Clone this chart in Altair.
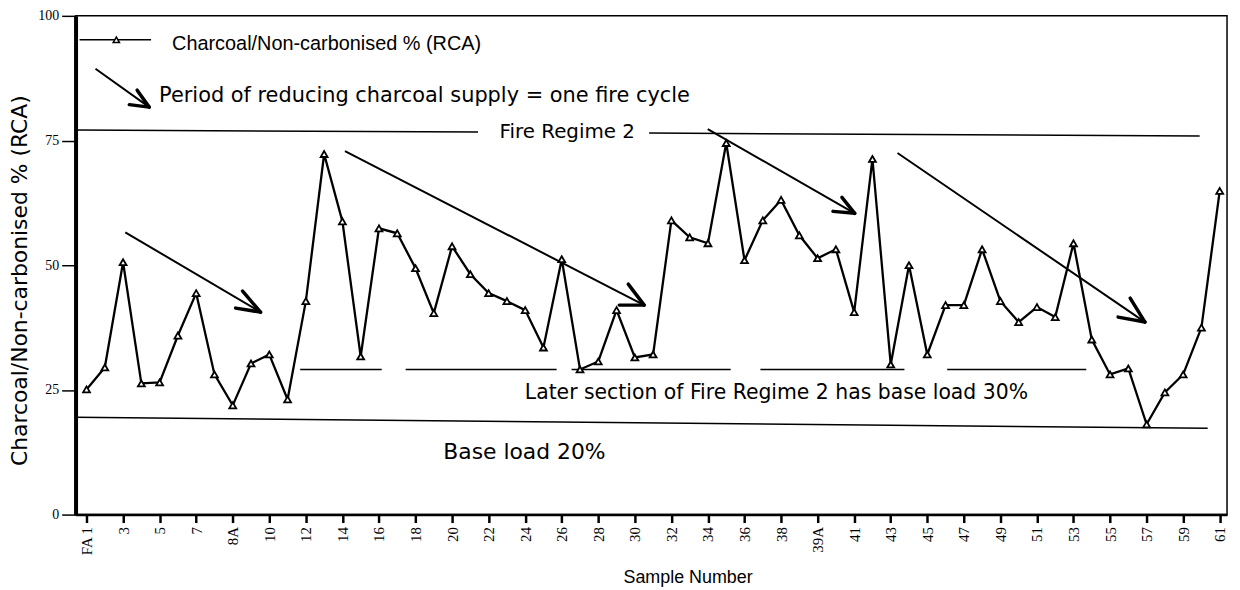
import altair as alt
import pandas as pd

# ---- data ----
samples = ["FA 1", "2", "3", "4", "5", "6", "7", "8", "8A", "9", "10", "11", "12", "13", "14",
           "15", "16", "17", "18", "19", "20", "21", "22", "23", "24", "25", "26", "27", "28",
           "29", "30", "31", "32", "33", "34", "35", "36", "37", "38", "39", "39A", "40", "41",
           "42", "43", "44", "45", "46", "47", "48", "49", "50", "51", "52", "53", "54", "55",
           "56", "57", "58", "59", "60", "61"]
rca = [25.1, 29.5, 50.6, 26.3, 26.5, 35.9, 44.4, 28.1, 21.9, 30.3, 32.1, 23.1, 42.8, 72.3, 58.8,
       31.7, 57.4, 56.4, 49.4, 40.4, 53.8, 48.2, 44.4, 42.8, 41.0, 33.5, 51.2, 29.1, 30.7,
       41.0, 31.5, 32.1, 59.0, 55.6, 54.4, 74.5, 51.0, 59.0, 63.1, 56.0, 51.4, 53.2, 40.6,
       71.3, 30.1, 50.0, 32.1, 42.0, 42.0, 53.2, 42.8, 38.6, 41.6, 39.6, 54.4, 35.1, 28.1,
       29.3, 18.1, 24.5, 28.1, 37.5, 64.9]
tick_positions = list(range(0, len(samples), 2))
y_ticks = [0, 25, 50, 75, 100]

# annotation lines (x in sample-index units, y in %)
regime_lines = [(-0.49, 77.1, 21.42, 76.7), (30.78, 76.5, 60.90, 75.9)]
base20_line = [(-0.6, 19.5, 61.34, 17.3)]
base30_segments = [(11.69, 16.15), (17.46, 25.72), (26.54, 35.24), (36.87, 44.75), (47.09, 54.70)]
base30_level = 29.1
arrow_shafts = [(0.49, 89.4, 3.43, 81.7), (2.12, 56.6, 9.52, 40.6), (14.14, 72.9, 30.51, 42.0),
                (33.99, 77.3, 42.03, 60.4), (44.37, 72.5, 57.91, 38.6)]
arrow_barbs = [(2.34, 82.2, 3.43, 81.7), (2.77, 85.1, 3.43, 81.7),
               (8.16, 41.4, 9.52, 40.6), (8.54, 44.8, 9.52, 40.6),
               (29.15, 42.0, 30.51, 42.0), (29.64, 46.2, 30.51, 42.0),
               (40.84, 60.8, 42.03, 60.4), (41.33, 63.6, 42.03, 60.4),
               (56.44, 39.6, 57.91, 38.6), (57.10, 43.4, 57.91, 38.6)]
legend_line = [(-0.38, 95.2, 3.53, 95.2)]
legend_marker = [(1.63, 95.2)]
legend_text = [(4.68, 94.4, "Charcoal/Non-carbonised % (RCA)")]
period_text = [(3.97, 83.9, "Period of reducing charcoal supply = one fire cycle")]
regime_text = [(26.3, 76.7, "Fire Regime 2")]
later_text = [(23.98, 24.3, "Later section of Fire Regime 2 has base load 30%")]
base_text = [(19.52, 12.5, "Base load 20%")]

# ---- tables ----
df = pd.DataFrame({"idx": list(range(len(samples))), "sample": samples, "rca": rca})

def seg_df(rows):
    return pd.DataFrame(rows, columns=["idx", "rca", "idx2", "rca2"])

def txt_df(rows):
    return pd.DataFrame(rows, columns=["idx", "rca", "label"])

thin_df = seg_df(regime_lines + base20_line +
                 [(a, base30_level, b, base30_level) for a, b in base30_segments] + legend_line)
shaft_df = seg_df(arrow_shafts)
barb_df = seg_df(arrow_barbs)
marker_df = pd.DataFrame(legend_marker, columns=["idx", "rca"])

label_expr = "[" + ",".join("'" + s + "'" for s in samples) + "][datum.value]"

xscale = alt.Scale(domain=[-0.6, 62.4], nice=False, zero=False)
yscale = alt.Scale(domain=[0, 100], nice=False)

x_axis = alt.Axis(values=tick_positions, labelExpr=label_expr, labelAngle=-90,
                  labelFont="Liberation Serif", labelFontSize=15, labelColor="black",
                  labelPadding=4, tickSize=8, tickWidth=2.5, tickColor="black",
                  domainColor="black", domainWidth=2.5, grid=False,
                  titleFont="Liberation Sans", titleFontSize=18, titleFontWeight="normal",
                  titleColor="black", titleX=616, titleY=68, titleBaseline="alphabetic",
                  labelOverlap=False, labelFlush=False, labelBound=False)
y_axis = alt.Axis(values=y_ticks, labelFont="Liberation Serif", labelFontSize=14,
                  labelColor="black", labelPadding=3, tickSize=14, tickWidth=1.5,
                  tickColor="black", domainColor="black", domainWidth=4, grid=False,
                  titleFont="DejaVu Sans", titleFontSize=22, titleFontWeight="normal",
                  titleColor="black", titleX=-56, titleY=266, titleAngle=-90,
                  titleBaseline="middle", labelFlush=False, labelOverlap=False)

X = alt.X("idx:Q", scale=xscale, title="Sample Number", axis=x_axis)
Y = alt.Y("rca:Q", scale=yscale, title="Charcoal/Non-carbonised  % (RCA)", axis=y_axis)

line = alt.Chart(df).mark_line(color="black", strokeWidth=2.3).encode(x=X, y=Y)
pts = alt.Chart(df).mark_point(shape="triangle-up", size=48, filled=True, fill="white",
                               stroke="black", strokeWidth=1.8, opacity=1).encode(x=X, y=Y)

thin = alt.Chart(thin_df).mark_rule(color="black", strokeWidth=1.5).encode(
    x=X, y=Y, x2="idx2:Q", y2="rca2:Q")
shafts = alt.Chart(shaft_df).mark_rule(color="black", strokeWidth=2).encode(
    x=X, y=Y, x2="idx2:Q", y2="rca2:Q")
barbs = alt.Chart(barb_df).mark_rule(color="black", strokeWidth=3.5, strokeCap="round").encode(
    x=X, y=Y, x2="idx2:Q", y2="rca2:Q")
marker = alt.Chart(marker_df).mark_point(shape="triangle-up", size=40, filled=True, fill="white",
                                         stroke="black", strokeWidth=1.5, opacity=1).encode(
    x=X, y=Y)

def text_layer(rows, font, size, align="left"):
    return alt.Chart(txt_df(rows)).mark_text(
        align=align, baseline="middle", font=font, fontSize=size, color="black").encode(
        x=X, y=Y, text="label:N")

texts = [
    text_layer(legend_text, "Liberation Sans", 20),
    text_layer(period_text, "DejaVu Sans", 21),
    text_layer(regime_text, "DejaVu Sans", 20, "center"),
    text_layer(later_text, "DejaVu Sans", 20.5),
    text_layer(base_text, "DejaVu Sans", 22),
]

chart = alt.layer(line, thin, shafts, barbs, pts, marker, *texts).properties(
    width=1159, height=502,
    autosize=alt.AutoSizeParams(type="none"),
    padding={"left": 68, "top": 6, "right": 5, "bottom": 74},
    background="white",
).configure_view(stroke="black", strokeWidth=1.5).configure_axis(labelOverlap=False)

chart.save("out.html", embed_options={"renderer": "svg", "actions": False})
